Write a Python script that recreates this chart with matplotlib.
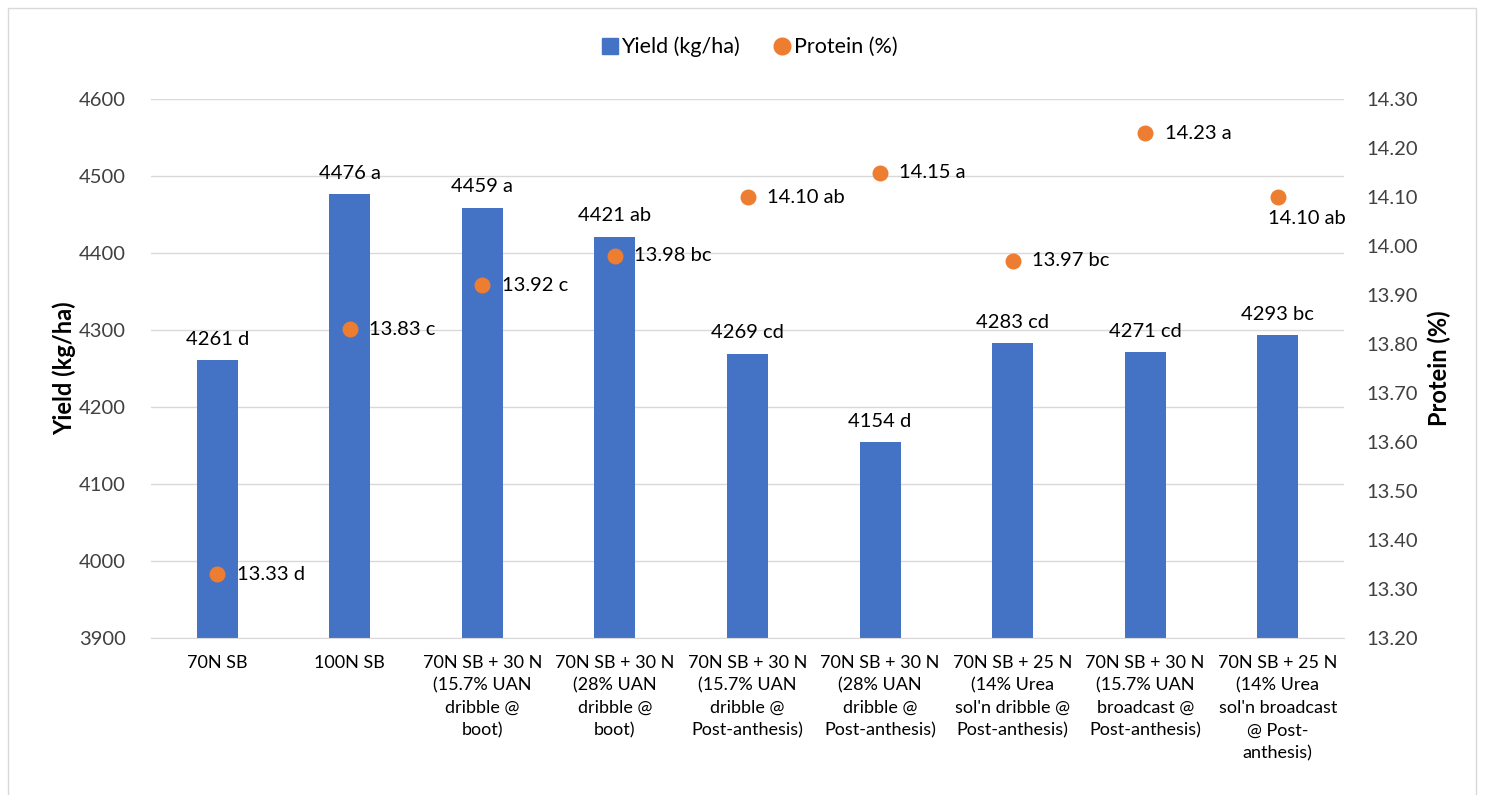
import numpy as np
import matplotlib.pyplot as plt
from matplotlib.patches import Rectangle
from matplotlib.lines import Line2D

plt.rcParams['font.family'] = ['Lato', 'DejaVu Sans']

treatments = [
    "70N SB",
    "100N SB",
    "70N SB + 30 N\n(15.7% UAN\ndribble @\nboot)",
    "70N SB + 30 N\n(28% UAN\ndribble @\nboot)",
    "70N SB + 30 N\n(15.7% UAN\ndribble @\nPost-anthesis)",
    "70N SB + 30 N\n(28% UAN\ndribble @\nPost-anthesis)",
    "70N SB + 25 N\n(14% Urea\nsol'n dribble @\nPost-anthesis)",
    "70N SB + 30 N\n(15.7% UAN\nbroadcast @\nPost-anthesis)",
    "70N SB + 25 N\n(14% Urea\nsol'n broadcast\n@ Post-\nanthesis)",
]
yield_kg = [4261, 4476, 4459, 4421, 4269, 4154, 4283, 4271, 4293]
yield_grp = ["d", "a", "a", "ab", "cd", "d", "cd", "cd", "bc"]
protein = [13.33, 13.83, 13.92, 13.98, 14.10, 14.15, 13.97, 14.23, 14.10]
protein_grp = ["d", "c", "c", "bc", "ab", "a", "bc", "a", "ab"]

blue = "#4472C4"
orange = "#ED7D31"
txt = "#000000"
tick_c = "#404040"

fig = plt.figure(figsize=(14.91, 7.95), dpi=100)
ax = fig.add_axes([151/1491, 1-638/795, (1344-151)/1491, (638-99)/795])
ax2 = ax.twinx()

x = np.arange(len(treatments))
ax.bar(x, yield_kg, width=0.31, color=blue, zorder=2)
ax.set_ylim(3900, 4600)
ax.set_yticks(np.arange(3900, 4601, 100))
ax.set_xlim(-0.5, len(treatments) - 0.5)
ax.grid(axis='y', color='#D9D9D9', linewidth=1, zorder=0)
ax.set_axisbelow(True)
for i, (v, g) in enumerate(zip(yield_kg, yield_grp)):
    ax.annotate(f"{v} {g}", (i, v), xytext=(0, 9), textcoords='offset points',
                ha='center', va='bottom', fontsize=14.5, color=txt)

ax2.scatter(x, protein, s=110, color=orange, zorder=3)
ax2.set_ylim(13.20, 14.30)
ax2.set_yticks(np.arange(13.20, 14.31, 0.10))
ax2.set_yticklabels([f"{t:.2f}" for t in np.arange(13.20, 14.31, 0.10)])
for i, (v, g) in enumerate(zip(protein, protein_grp)):
    if i == len(protein) - 1:
        ax2.annotate(f"{v:.2f} {g}", (i, v), xytext=(-7, -9), textcoords='offset points',
                     ha='left', va='top', fontsize=14.5, color=txt)
    else:
        ax2.annotate(f"{v:.2f} {g}", (i, v), xytext=(14, 0), textcoords='offset points',
                     ha='left', va='center', fontsize=14.5, color=txt)

ax.set_xticks(x)
ax.set_xticklabels(treatments, fontsize=13, color=txt, linespacing=1.5, va='top')
ax.tick_params(axis='x', length=0, pad=12)
ax.tick_params(axis='y', length=0, labelsize=14.5, labelcolor=tick_c, pad=18)
ax2.tick_params(axis='y', length=0, labelsize=14.5, labelcolor=tick_c, pad=16)

for a in (ax, ax2):
    for s in a.spines.values():
        s.set_visible(False)
ax.spines['bottom'].set_visible(True)
ax.spines['bottom'].set_color('#D9D9D9')

ax.set_ylabel("Yield (kg/ha)", fontsize=17, fontweight='bold', labelpad=2)
ax2.set_ylabel("Protein (%)", fontsize=17, fontweight='bold', labelpad=7)

handles = [
    Line2D([], [], marker='s', linestyle='none', color=blue, markersize=11),
    Line2D([], [], marker='o', linestyle='none', color=orange, markersize=12),
]
fig.legend(handles, ["Yield (kg/ha)", "Protein (%)"], loc='center',
           bbox_to_anchor=(0.5, 1-47/795), ncol=2, frameon=False, fontsize=15.5,
           handletextpad=-0.2, columnspacing=1.2, handlelength=1.5)

fig.patches.append(Rectangle((8/1491, -0.05), (1476-8)/1491, 1.05-8/795,
                             transform=fig.transFigure, fill=False,
                             edgecolor='#D9D9D9', linewidth=1))

fig.savefig("out.png", dpi=100)
